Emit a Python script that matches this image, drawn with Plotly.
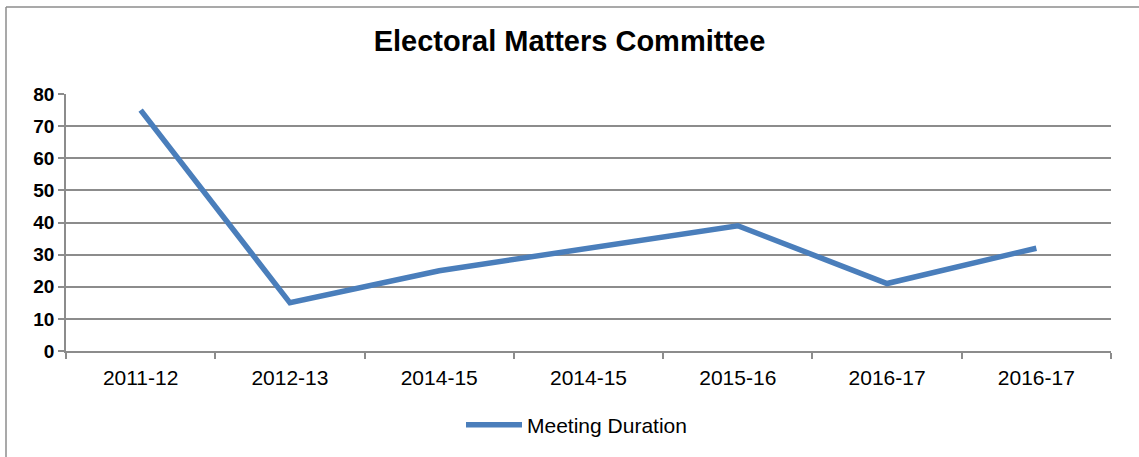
import plotly.graph_objects as go

categories = ["2011-12", "2012-13", "2014-15", "2014-15", "2015-16", "2016-17", "2016-17"]
meeting_duration = [75, 15, 25, 32, 39, 21, 32]
series_name = "Meeting Duration"
title_text = "Electoral Matters Committee"

W, H = 1139, 457
ML, MR, MT, MB = 66, 28, 94, 106
pw = W - ML - MR
ph = H - MT - MB

xpos = list(range(len(categories)))
grid = "#8c8c8c"
font_fam = "Liberation Sans, Arial, sans-serif"

fig = go.Figure()
fig.add_trace(go.Scatter(
    x=xpos, y=meeting_duration, mode="lines", name=series_name,
    line=dict(color="#4A7EBB", width=5.5),
    showlegend=True,
))

fig.update_layout(
    width=W, height=H,
    margin=dict(l=ML, r=MR, t=MT, b=MB),
    paper_bgcolor="white", plot_bgcolor="white",
    font=dict(family=font_fam, color="black", size=21),
    title=dict(text="<b>" + title_text + "</b>", x=0.5, xanchor="center",
               y=1 - 41 / H, yanchor="middle", font=dict(size=29, family=font_fam)),
    showlegend=True,
    legend=dict(orientation="h", x=0.5 - 12 / pw, xanchor="center",
                y=(H - MB - 425) / ph, yanchor="middle",
                font=dict(size=21), itemwidth=56),
    xaxis=dict(
        range=[-0.5, len(categories) - 0.5],
        tickmode="array", tickvals=xpos, ticktext=categories,
        ticks="", showgrid=False, zeroline=False,
        showline=True, linecolor=grid, linewidth=1.5,
        ticklabelstandoff=7,
        tickfont=dict(size=21, family=font_fam),
        minor=dict(tickvals=[i - 0.5 for i in range(len(categories) + 1)],
                   ticks="outside", ticklen=6, tickcolor=grid, tickwidth=1.5,
                   showgrid=False),
        fixedrange=True,
    ),
    yaxis=dict(
        range=[0, 80], dtick=10, tick0=0,
        ticks="outside", ticklen=6, tickcolor=grid, tickwidth=1.5,
        showgrid=True, gridcolor=grid, gridwidth=1.5,
        zeroline=False, showline=True, linecolor=grid, linewidth=1.5,
        tickfont=dict(size=19, family=font_fam, weight="bold"),
        fixedrange=True,
    ),
    shapes=[
        dict(type="line", xref="paper", yref="paper",
             x0=(6 - ML) / pw, x1=(W + 20 - ML) / pw,
             y0=(H - MB - 7) / ph, y1=(H - MB - 7) / ph,
             line=dict(color="#8c8c8c", width=1.5)),
        dict(type="line", xref="paper", yref="paper",
             x0=(6 - ML) / pw, x1=(6 - ML) / pw,
             y0=(H - MB - 7) / ph, y1=(H - MB - H - 20) / ph,
             line=dict(color="#8c8c8c", width=1.5)),
    ],
)

fig.write_html("out.html", config={"displayModeBar": False},
               post_script="document.body.style.margin='0';document.body.style.padding='0';")
